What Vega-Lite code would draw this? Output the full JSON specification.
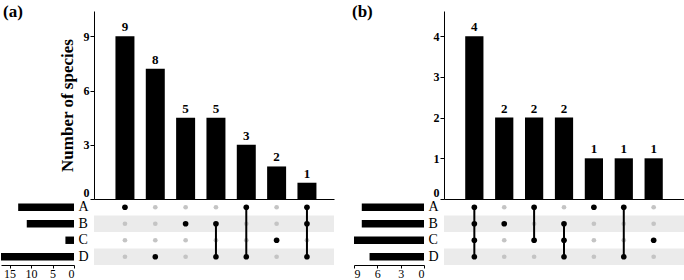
{
  "$schema": "https://vega.github.io/schema/vega-lite/v6.json",
  "padding": {"left": 1, "top": 3, "right": 0, "bottom": 0},
  "config": {
    "font": "Liberation Serif",
    "view": {"stroke": null},
    "axis": {"domainColor": "black", "tickColor": "black", "labelColor": "black", "titleColor": "black", "labelFont": "Liberation Serif", "titleFont": "Liberation Serif", "grid": false}
  },
  "datasets": {
    "barsA": [
      {"col": "a1", "h": 9, "n": 9},
      {"col": "a2", "h": 7.2, "n": 8},
      {"col": "a3", "h": 4.5, "n": 5},
      {"col": "a4", "h": 4.5, "n": 5},
      {"col": "a5", "h": 3, "n": 3},
      {"col": "a6", "h": 1.8, "n": 2},
      {"col": "a7", "h": 0.9, "n": 1}
    ],
    "barsB": [
      {"col": "b1", "h": 4, "n": 4},
      {"col": "b2", "h": 2, "n": 2},
      {"col": "b3", "h": 2, "n": 2},
      {"col": "b4", "h": 2, "n": 2},
      {"col": "b5", "h": 1, "n": 1},
      {"col": "b6", "h": 1, "n": 1},
      {"col": "b7", "h": 1, "n": 1}
    ],
    "sizesA": [
      {"set": "A", "size": 13},
      {"set": "B", "size": 11},
      {"set": "C", "size": 2},
      {"set": "D", "size": 17}
    ],
    "sizesB": [
      {"set": "A", "size": 8},
      {"set": "B", "size": 8},
      {"set": "C", "size": 9},
      {"set": "D", "size": 7}
    ],
    "stripes": [{"set": "B"}, {"set": "D"}],
    "dotsA": [
      {"col": "a1", "set": "A", "m": "y"}, {"col": "a1", "set": "B", "m": "n"}, {"col": "a1", "set": "C", "m": "n"}, {"col": "a1", "set": "D", "m": "n"},
      {"col": "a2", "set": "A", "m": "n"}, {"col": "a2", "set": "B", "m": "n"}, {"col": "a2", "set": "C", "m": "n"}, {"col": "a2", "set": "D", "m": "y"},
      {"col": "a3", "set": "A", "m": "n"}, {"col": "a3", "set": "B", "m": "y"}, {"col": "a3", "set": "C", "m": "n"}, {"col": "a3", "set": "D", "m": "n"},
      {"col": "a4", "set": "A", "m": "n"}, {"col": "a4", "set": "B", "m": "y"}, {"col": "a4", "set": "C", "m": "n"}, {"col": "a4", "set": "D", "m": "y"},
      {"col": "a5", "set": "A", "m": "y"}, {"col": "a5", "set": "B", "m": "n"}, {"col": "a5", "set": "C", "m": "n"}, {"col": "a5", "set": "D", "m": "y"},
      {"col": "a6", "set": "A", "m": "n"}, {"col": "a6", "set": "B", "m": "n"}, {"col": "a6", "set": "C", "m": "y"}, {"col": "a6", "set": "D", "m": "n"},
      {"col": "a7", "set": "A", "m": "y"}, {"col": "a7", "set": "B", "m": "y"}, {"col": "a7", "set": "C", "m": "n"}, {"col": "a7", "set": "D", "m": "y"}
    ],
    "linesA": [
      {"col": "a4", "from": "B", "to": "D"},
      {"col": "a5", "from": "A", "to": "D"},
      {"col": "a7", "from": "A", "to": "D"}
    ],
    "dotsB": [
      {"col": "b1", "set": "A", "m": "y"}, {"col": "b1", "set": "B", "m": "y"}, {"col": "b1", "set": "C", "m": "y"}, {"col": "b1", "set": "D", "m": "y"},
      {"col": "b2", "set": "A", "m": "n"}, {"col": "b2", "set": "B", "m": "y"}, {"col": "b2", "set": "C", "m": "n"}, {"col": "b2", "set": "D", "m": "n"},
      {"col": "b3", "set": "A", "m": "y"}, {"col": "b3", "set": "B", "m": "n"}, {"col": "b3", "set": "C", "m": "y"}, {"col": "b3", "set": "D", "m": "n"},
      {"col": "b4", "set": "A", "m": "n"}, {"col": "b4", "set": "B", "m": "y"}, {"col": "b4", "set": "C", "m": "y"}, {"col": "b4", "set": "D", "m": "y"},
      {"col": "b5", "set": "A", "m": "y"}, {"col": "b5", "set": "B", "m": "n"}, {"col": "b5", "set": "C", "m": "n"}, {"col": "b5", "set": "D", "m": "n"},
      {"col": "b6", "set": "A", "m": "y"}, {"col": "b6", "set": "B", "m": "n"}, {"col": "b6", "set": "C", "m": "n"}, {"col": "b6", "set": "D", "m": "y"},
      {"col": "b7", "set": "A", "m": "n"}, {"col": "b7", "set": "B", "m": "n"}, {"col": "b7", "set": "C", "m": "y"}, {"col": "b7", "set": "D", "m": "n"}
    ],
    "linesB": [
      {"col": "b1", "from": "A", "to": "D"},
      {"col": "b3", "from": "A", "to": "C"},
      {"col": "b4", "from": "B", "to": "D"},
      {"col": "b6", "from": "A", "to": "D"}
    ]
  },
  "columns": 4,
  "spacing": {"row": 0, "column": 20},
  "bounds": "flush",
  "align": "each",
  "concat": [
    {
      "width": 73, "height": 188,
      "title": {"text": "(a)", "anchor": "start", "orient": "top", "offset": -10, "dx": 2, "fontSize": 17, "fontWeight": "bold", "font": "Liberation Serif", "color": "black"},
      "data": {"values": []},
      "mark": "point",
      "encoding": {}
    },
    {
      "width": 240, "height": 188,
      "data": {"name": "barsA"},
      "encoding": {
        "x": {"field": "col", "type": "ordinal", "scale": {"type": "band", "paddingInner": 0.374, "paddingOuter": 0.643, "align": 0.55}, "axis": {"labels": false, "ticks": false, "title": null, "domainWidth": 1}},
        "y": {"field": "h", "type": "quantitative", "scale": {"domain": [0, 10.4], "nice": false}, "axis": {"values": [0, 3, 6, 9], "title": "Number of species", "titleFontSize": 17, "titleFontWeight": "bold", "titlePadding": 7, "labelFontSize": 12, "labelFontWeight": "bold", "tickSize": 4, "labelPadding": 1, "labelBaseline": {"condition": {"test": "datum.value == 0", "value": "bottom"}, "value": "middle"}}}
      },
      "layer": [
        {"mark": {"type": "bar", "color": "black"}},
        {"mark": {"type": "text", "baseline": "bottom", "dy": -2, "fontSize": 13, "fontWeight": "bold", "color": "black"}, "encoding": {"text": {"field": "n", "type": "quantitative"}}}
      ]
    },
    {
      "width": 70, "height": 188,
      "title": {"text": "(b)", "anchor": "start", "orient": "top", "offset": -10, "dx": -2, "fontSize": 17, "fontWeight": "bold", "font": "Liberation Serif", "color": "black"},
      "data": {"values": []},
      "mark": "point",
      "encoding": {}
    },
    {
      "width": 240, "height": 188,
      "data": {"name": "barsB"},
      "encoding": {
        "x": {"field": "col", "type": "ordinal", "scale": {"type": "band", "paddingInner": 0.39, "paddingOuter": 0.71, "align": 0.5}, "axis": {"labels": false, "ticks": false, "title": null}},
        "y": {"field": "h", "type": "quantitative", "scale": {"domain": [0, 4.62], "nice": false}, "axis": {"values": [0, 1, 2, 3, 4], "title": null, "labelFontSize": 12, "labelFontWeight": "bold", "tickSize": 4, "labelPadding": 1, "labelBaseline": {"condition": {"test": "datum.value == 0", "value": "bottom"}, "value": "middle"}}}
      },
      "layer": [
        {"mark": {"type": "bar", "color": "black"}},
        {"mark": {"type": "text", "baseline": "bottom", "dy": -2, "fontSize": 13, "fontWeight": "bold", "color": "black"}, "encoding": {"text": {"field": "n", "type": "quantitative"}}}
      ]
    },
    {
      "width": 73, "height": 66,
      "data": {"name": "sizesA"},
      "mark": {"type": "bar", "color": "black"},
      "encoding": {
        "x": {"field": "size", "type": "quantitative", "scale": {"domain": [0, 17], "nice": false, "reverse": true}, "axis": {"values": [0, 5, 10, 15], "title": null, "labelFontSize": 12, "tickSize": 3, "labelPadding": 0, "orient": "bottom"}},
        "y": {"field": "set", "type": "nominal", "scale": {"domain": ["A", "B", "C", "D"], "paddingInner": 0.55, "paddingOuter": 0.275}, "axis": {"orient": "right", "title": null, "ticks": false, "domain": false, "labelFontSize": 14, "labelPadding": 4}}
      }
    },
    {
      "width": 240, "height": 66,
      "layer": [
        {
          "data": {"name": "stripes"},
          "mark": {"type": "rect", "color": "#ebebeb"},
          "encoding": {"y": {"field": "set", "type": "nominal", "scale": {"domain": ["A", "B", "C", "D"], "paddingInner": 0, "paddingOuter": 0}, "axis": null}}
        },
        {
          "data": {"name": "dotsA"},
          "transform": [{"filter": "datum.m == 'n'"}],
          "mark": {"type": "circle", "color": "#c4c4c4", "opacity": 1, "size": 22},
          "encoding": {
            "x": {"field": "col", "type": "ordinal", "scale": {"type": "band", "paddingInner": 0.374, "paddingOuter": 0.643, "align": 0.55}, "axis": null},
            "y": {"field": "set", "type": "nominal", "axis": null}
          }
        },
        {
          "data": {"name": "linesA"},
          "mark": {"type": "rule", "color": "black", "strokeWidth": 2},
          "encoding": {
            "x": {"field": "col", "type": "ordinal", "axis": null},
            "y": {"field": "from", "type": "nominal", "axis": null},
            "y2": {"field": "to"}
          }
        },
        {
          "data": {"name": "dotsA"},
          "transform": [{"filter": "datum.m == 'y'"}],
          "mark": {"type": "circle", "color": "black", "opacity": 1, "size": 32},
          "encoding": {
            "x": {"field": "col", "type": "ordinal", "axis": null},
            "y": {"field": "set", "type": "nominal", "axis": null}
          }
        }
      ]
    },
    {
      "width": 70, "height": 66,
      "data": {"name": "sizesB"},
      "mark": {"type": "bar", "color": "black"},
      "encoding": {
        "x": {"field": "size", "type": "quantitative", "scale": {"domain": [0, 9], "nice": false, "reverse": true}, "axis": {"values": [0, 3, 6, 9], "title": null, "labelFontSize": 12, "tickSize": 3, "labelPadding": 0, "orient": "bottom"}},
        "y": {"field": "set", "type": "nominal", "scale": {"domain": ["A", "B", "C", "D"], "paddingInner": 0.55, "paddingOuter": 0.275}, "axis": {"orient": "right", "title": null, "ticks": false, "domain": false, "labelFontSize": 14, "labelPadding": 4}}
      }
    },
    {
      "width": 240, "height": 66,
      "layer": [
        {
          "data": {"name": "stripes"},
          "mark": {"type": "rect", "color": "#ebebeb"},
          "encoding": {"y": {"field": "set", "type": "nominal", "scale": {"domain": ["A", "B", "C", "D"], "paddingInner": 0, "paddingOuter": 0}, "axis": null}}
        },
        {
          "data": {"name": "dotsB"},
          "transform": [{"filter": "datum.m == 'n'"}],
          "mark": {"type": "circle", "color": "#c4c4c4", "opacity": 1, "size": 22},
          "encoding": {
            "x": {"field": "col", "type": "ordinal", "scale": {"type": "band", "paddingInner": 0.39, "paddingOuter": 0.71, "align": 0.5}, "axis": null},
            "y": {"field": "set", "type": "nominal", "axis": null}
          }
        },
        {
          "data": {"name": "linesB"},
          "mark": {"type": "rule", "color": "black", "strokeWidth": 2},
          "encoding": {
            "x": {"field": "col", "type": "ordinal", "axis": null},
            "y": {"field": "from", "type": "nominal", "axis": null},
            "y2": {"field": "to"}
          }
        },
        {
          "data": {"name": "dotsB"},
          "transform": [{"filter": "datum.m == 'y'"}],
          "mark": {"type": "circle", "color": "black", "opacity": 1, "size": 32},
          "encoding": {
            "x": {"field": "col", "type": "ordinal", "axis": null},
            "y": {"field": "set", "type": "nominal", "axis": null}
          }
        }
      ]
    }
  ]
}
